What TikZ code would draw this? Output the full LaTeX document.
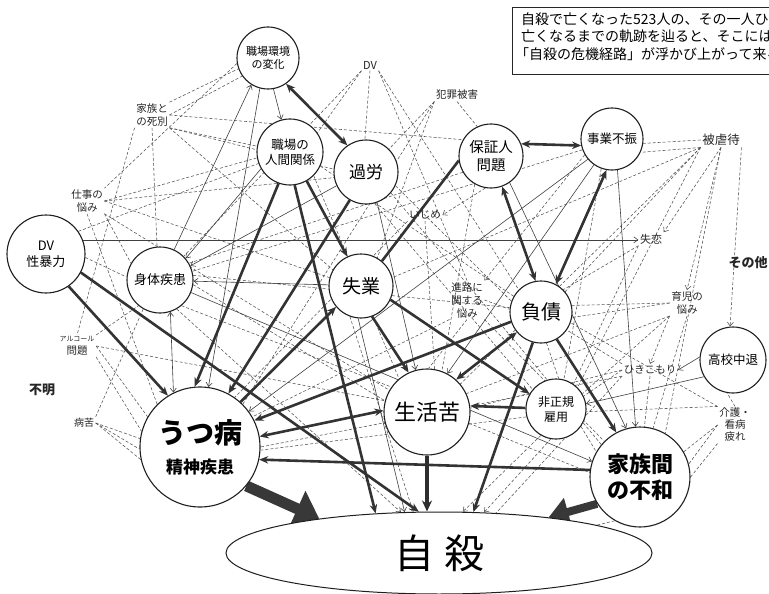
\documentclass[tikz,border=0pt]{standalone}
\usepackage{fontspec}
\setmainfont{Noto Sans CJK JP}
\usetikzlibrary{arrows.meta,shapes.geometric,backgrounds}
\newcommand\fsz[2]{\fontsize{#1pt}{#2pt}\selectfont}
\begin{document}
\begin{tikzpicture}[x=1pt,y=-1pt,
 cn/.style={circle,draw=black!88,line width=1.1pt,fill=white,inner sep=0pt,align=center},
 lab/.style={inner sep=1.5pt,align=center,font=\fsz{10.5}{12.5},text=black!85},
 tk/.style={line width=2.6pt,draw=black!80,-{Stealth[length=9pt,width=7.5pt]}},
 tkb/.style={line width=2.6pt,draw=black!80,{Stealth[length=9pt,width=7.5pt]}-{Stealth[length=9pt,width=7.5pt]}},
 tkn/.style={line width=2.6pt,draw=black!80},
 tn/.style={line width=0.6pt,draw=black!75,-{Straight Barb[length=4pt,width=6pt]}},
 tnb/.style={line width=0.6pt,draw=black!75,{Straight Barb[length=4pt,width=6pt]}-{Straight Barb[length=4pt,width=6pt]}},
 ds/.style={line width=0.55pt,draw=black!68,dash pattern=on 3pt off 2pt},
 dsa/.style={ds,-{Straight Barb[length=4pt,width=6pt]}},
 big/.style={line width=11pt,draw=black!78,-{Triangle[length=24pt,width=38pt]}},
 bigb/.style={line width=8pt,draw=black!78,-{Triangle[length=20pt,width=28pt]}}
]
\useasboundingbox (0,0) rectangle (769,594);
\begin{scope}
\clip (0,0) rectangle (769,594);
% ---------- nodes ----------
\node[cn,minimum size=62pt,font=\fsz{11}{13.5}] (kankyo) at (268,58) {職場環境\\の変化};
\node[cn,minimum size=66pt,font=\fsz{12.5}{15}] (ningen) at (290,152) {職場の\\人間関係};
\node[cn,minimum size=64pt,font=\fsz{17}{20}] (karo) at (366,172) {過労};
\node[cn,minimum size=64pt,font=\fsz{14.5}{17.5}] (hosho) at (491,156) {保証人\\問題};
\node[cn,minimum size=62pt,font=\fsz{12.5}{15}] (jigyo) at (612,139) {事業不振};
\node[cn,minimum size=78pt,font=\fsz{13}{16}] (dv) at (46,254) {DV\\性暴力};
\node[cn,minimum size=66pt,font=\fsz{13}{16}] (shintai) at (160,280) {身体疾患};
\node[cn,minimum size=64pt,font=\fsz{19}{22}] (shitsugyo) at (361,286) {失業};
\node[cn,minimum size=62pt,font=\fsz{20}{23}] (fusai) at (541,312) {負債};
\node[cn,minimum size=60pt,font=\fsz{12}{15}] (hisei) at (556,409) {非正規\\雇用};
\node[cn,minimum size=86pt,font=\fsz{22}{26}] (seikatsu) at (427,412) {生活苦};
\node[cn,minimum size=120pt,font=\fsz{28}{30}\bfseries] (utsu) at (200,447) {うつ病\\{\fsz{17}{20}\bfseries 精神疾患}};
\node[cn,minimum size=100pt,font=\fsz{22}{26}\bfseries] (kazoku) at (640,477) {家族間\\の不和};
\node[cn,minimum size=66pt,font=\fsz{12.5}{15}] (koko) at (733,360) {高校中退};
\node[ellipse,draw=black!88,line width=1pt,fill=white,minimum width=426pt,minimum height=82pt,inner sep=0pt,font=\fsz{40}{44}] (jisatsu) at (439,553) {自\hspace{10pt}殺};
% labels
\node[lab,font=\fsz{11}{13}] (lDV) at (370,65) {DV};
\node[lab] (lhanzai) at (457,95) {犯罪被害};
\node[lab] (lshibetsu) at (152,115) {家族と\\の死別};
\node[lab] (lshigoto) at (87,201) {仕事の\\悩み};
\node[lab] (lijime) at (425,215) {いじめ};
\node[lab,font=\fsz{11}{13}] (lshitsuren) at (651,239) {失恋};
\node[lab,font=\fsz{12.5}{15}] (lhigyaku) at (721,140) {被虐待};
\node[lab,font=\fsz{13}{15}\bfseries] (lsonota) at (748,263) {その他};
\node[lab,font=\fsz{10.5}{13}] (lshinro) at (467,300) {進路に\\関する\\悩み};
\node[lab,font=\fsz{10.5}{13}] (likuji) at (687,303) {育児の\\悩み};
\node[lab] (lhiki) at (650,370) {ひきこもり};
\node[lab,font=\fsz{10.5}{12}] (lkaigo) at (735,425) {介護・\\看病\\疲れ};
\node[lab] (lalc) at (77,346) {{\fsz{7}{9}アルコール}\\問題};
\node[lab,font=\fsz{13}{15}\bfseries] (lfumei) at (42,390) {不明};
\node[lab,font=\fsz{10}{12}] (lbyoku) at (84,423) {病苦};
% text box
\draw[line width=0.9pt,draw=black!85,fill=white] (512,7) rectangle (800,74);
\node[anchor=north west,align=left,inner sep=0pt,font=\fsz{14}{17.5}] (box) at (521,12) {自殺で亡くなった523人の、その一人ひとりが\\亡くなるまでの軌跡を辿ると、そこには共通する\\\hspace*{-6pt}「自殺の危機経路」が浮かび上がって来る};
\end{scope}
% ---------- connectors ----------
\begin{scope}[on background layer]
\fill[white] (0,0) rectangle (769,594);
% dashed from labels
\draw[ds] (lshibetsu.north east) -- (kankyo.-160);
\draw[ds] (lshibetsu.east) -- (kankyo.-145);
\draw[ds] (kankyo.-170) -- (lshigoto.north east);
\draw[ds] (lshibetsu.east) -- (hosho.150);
\draw[ds] (lshibetsu.south east) -- (ningen.170);
\draw[ds] (lshibetsu.south) -- (shintai.95);
\draw[ds] (lshibetsu.south east) -- (shitsugyo.150);
\draw[ds] (lshibetsu.south west) -- (lalc.north);
\draw[ds] (lshibetsu.south east) -- (karo.175);
\draw[ds] (lshigoto.east) -- (ningen.-170);
\draw[ds] (lshigoto.east) -- (karo.-170);
\draw[ds] (lshigoto.south east) -- (shintai.150);
\draw[ds] (lshigoto.south east) -- (seikatsu.150);
\draw[ds] (lshigoto.south) -- (utsu.135);
\draw[ds] (lshigoto.east) -- (shitsugyo.165);
\draw[ds] (lDV.south west) -- (ningen.35);
\draw[ds] (lDV.south) -- (karo.92);
\draw[ds] (lDV.south east) -- (fusai.135);
\draw[ds] (lDV.south west) -- (shintai.45);
\draw[ds] (lDV.south east) -- (lshinro.north);
\draw[ds] (lhanzai.south) -- (hosho.115);
\draw[ds] (lhanzai.south west) -- (shitsugyo.60);
\draw[ds] (lhanzai.south west) -- (karo.45);
\draw[ds] (lhanzai.south west) -- (utsu.45);
\draw[ds] (lhigyaku.west) -- (jigyo.-8);
\draw[ds] (lhigyaku.south west) -- (jigyo.-25);
\draw[dsa] (lhigyaku.south) -- (lshitsuren.north east);
\draw[dsa] (lhigyaku.south) -- (likuji.north);
\draw[dsa] (lhigyaku.south east) -- (koko.95);
\draw[ds] (lhigyaku.south west) -- (fusai.40);
\draw[ds] (lhigyaku.south west) -- (hisei.45);
\draw[ds] (lhigyaku.south west) -- (shitsugyo.15);
\draw[ds] (lhigyaku.south west) -- (seikatsu.40);
\draw[ds] (lhigyaku.south) -- (kazoku.60);
\draw[ds] (lshinro.south) -- (seikatsu.88);
\draw[ds] (lshinro.south west) -- (utsu.30);
\draw[ds] (lshinro.south east) -- (kazoku.135);
\draw[ds] (lshinro.east) -- (fusai.175);
\draw[dsa] (jigyo.-150) -- (lshinro.north east);
\draw[ds] (likuji.west) -- (fusai.12);
\draw[ds] (likuji.west) -- (fusai.-10);
\draw[ds] (likuji.south west) -- (hisei.30);
\draw[ds] (likuji.south) -- (kazoku.75);
\draw[ds] (likuji.south west) -- (seikatsu.25);
\draw[dsa] (likuji.south west) -- (lhiki.north);
\draw[ds] (lhiki.north west) -- (fusai.-35);
\draw[ds] (lhiki.west) -- (hisei.25);
\draw[ds] (lhiki.south) -- (kazoku.85);
\draw[ds] (lhiki.west) -- (seikatsu.5);
\draw[ds] (lhiki.south west) -- (utsu.0);
\draw[ds] (lkaigo.west) -- (kazoku.30);
\draw[ds] (lkaigo.west) -- (kazoku.15);
\draw[ds] (lkaigo.south west) -- (kazoku.0);
\draw[ds] (lkaigo.north west) -- (hisei.-5);
\draw[ds] (lkaigo.north west) -- (fusai.-20);
\draw[ds] (lkaigo.north) -- (koko.-100);
\draw[ds] (lalc.east) -- (utsu.150);
\draw[ds] (lalc.south east) -- (utsu.165);
\draw[ds] (lalc.north east) -- (shintai.-130);
\draw[ds] (lalc.east) -- (seikatsu.165);
\draw[ds] (lbyoku.east) -- (utsu.172);
\draw[ds] (lbyoku.east) -- (utsu.-178);
\draw[ds] (lbyoku.east) -- (utsu.-168);
\draw[ds] (shintai.-120) -- (lbyoku.north east);
\draw[dsa] (hosho.-100) -- (lijime.east);
\draw[ds] (lijime.south west) -- (utsu.55);
\draw[ds] (lijime.south) -- (seikatsu.80);
\draw[ds] (lshitsuren.south west) -- (fusai.45);
\draw[ds] (lshitsuren.south west) -- (hisei.55);
% dashed among circles
\draw[ds] (shintai.-8) -- (seikatsu.165);
\draw[ds] (shintai.8) -- (fusai.172);
\draw[ds] (ningen.-25) -- (fusai.150);
\draw[ds] (karo.-25) -- (fusai.160);
\draw[ds] (karo.-75) -- (hisei.140);
\draw[ds] (ningen.-45) -- (seikatsu.130);
\draw[ds] (hisei.-35) -- (kazoku.150);
\draw[ds] (seikatsu.-15) -- (kazoku.175);
\draw[ds] (utsu.-3) -- (hisei.-165);
\draw[ds] (fusai.-80) -- (hisei.85);
\draw[ds] (jigyo.-160) -- (shintai.15);
\draw[ds] (hosho.-150) -- (shintai.30);
\draw[ds] (hosho.-120) -- (seikatsu.70);
\draw[ds] (jigyo.-110) -- (hisei.75);
\draw[ds] (karo.-40) -- (kazoku.140);
\draw[ds] (dv.-5) -- (shintai.175);
\draw[ds] (dv.35) -- (ningen.-160);
\draw[ds] (shintai.-50) -- (seikatsu.145);
\draw[dsa] (shitsugyo.-110) -- (jisatsu.122);
\draw[dsa] (hisei.-120) -- (jisatsu.60);
\draw[dsa] (hisei.-100) -- (jisatsu.42);
\draw[ds] (lhiki.south west) -- (jisatsu.35);
\draw[ds] (kazoku.-120) -- (jisatsu.10);
\draw[dsa] (shintai.-60) -- (jisatsu.133);
% thin solid
\draw[tn] (kankyo.-80) -- (ningen.105);
\draw[tn] (shintai.65) -- (kankyo.-122);
\draw[tn] (kankyo.-105) -- (utsu.82);
\draw[tn] (ningen.-150) -- (shintai.40);
\draw[tn] (karo.-155) -- (shintai.25);
\draw[tn] (shitsugyo.178) -- (shintai.-2);
\draw[tnb] (shintai.-72) -- (utsu.116);
\draw[tn] (dv.21) -- (lshitsuren.west |- dv.21);
\draw[tn] (jigyo.-80) -- (kazoku.95);
\draw[tn] (koko.175) -- (lhiki.east);
\draw[tn] (koko.-150) -- (hisei.10);
\draw[tn] (hosho.-55) -- (kazoku.106);
\draw[tn] (jigyo.-140) -- (utsu.36);
\draw[tn] (jigyo.-125) -- (seikatsu.62);
\draw[tn] (shintai.-22) -- (kazoku.162);
\draw[tn] (shitsugyo.-95) -- (jisatsu.130);
\draw[tn] (karo.-70) -- (seikatsu.105);
% thick
\draw[tkb] (kankyo.-55) -- (karo.125);
\draw[tkb] (hosho.22) -- (jigyo.192);
\draw[tkb] (hosho.-70) -- (fusai.100);
\draw[tkb] (jigyo.-100) -- (fusai.62);
\draw[tkb] (fusai.-140) -- (seikatsu.48);
\draw[tkb] (seikatsu.178) -- (utsu.10);
\draw[tk] (kazoku.172) -- (utsu.-12);
\draw[tk] (fusai.-162) -- (utsu.26);
\draw[tk] (hisei.178) -- (seikatsu.8);
\draw[line width=4pt,draw=black!82,-{Stealth[length=11pt,width=10pt]}] (seikatsu.south) -- (seikatsu.south |- jisatsu.north);
\draw[tk] (fusai.-105) -- (jisatsu.50);
\draw[tk] (fusai.-60) -- (kazoku.118);
\draw[tk] (shitsugyo.-70) -- (seikatsu.115);
\draw[tk] (shitsugyo.-25) -- (hisei.150);
\draw[tk] (ningen.-60) -- (shitsugyo.115);
\draw[tk] (ningen.-110) -- (utsu.95);
\draw[tk] (ningen.-82) -- (jisatsu.148);
\draw[tk] (karo.-120) -- (utsu.62);
\draw[tk] (utsu.48) -- (shitsugyo.-140);
\draw[tkn] (hosho.-172) -- (shitsugyo.50);
\draw[tk] (dv.-55) -- (utsu.122);
\draw[tk] (dv.-28) -- (jisatsu.116);
\draw[big] (utsu.-40) -- (jisatsu.164);
\draw[bigb] (kazoku.-148) -- (jisatsu.18);
\end{scope}
\end{tikzpicture}
\end{document}
